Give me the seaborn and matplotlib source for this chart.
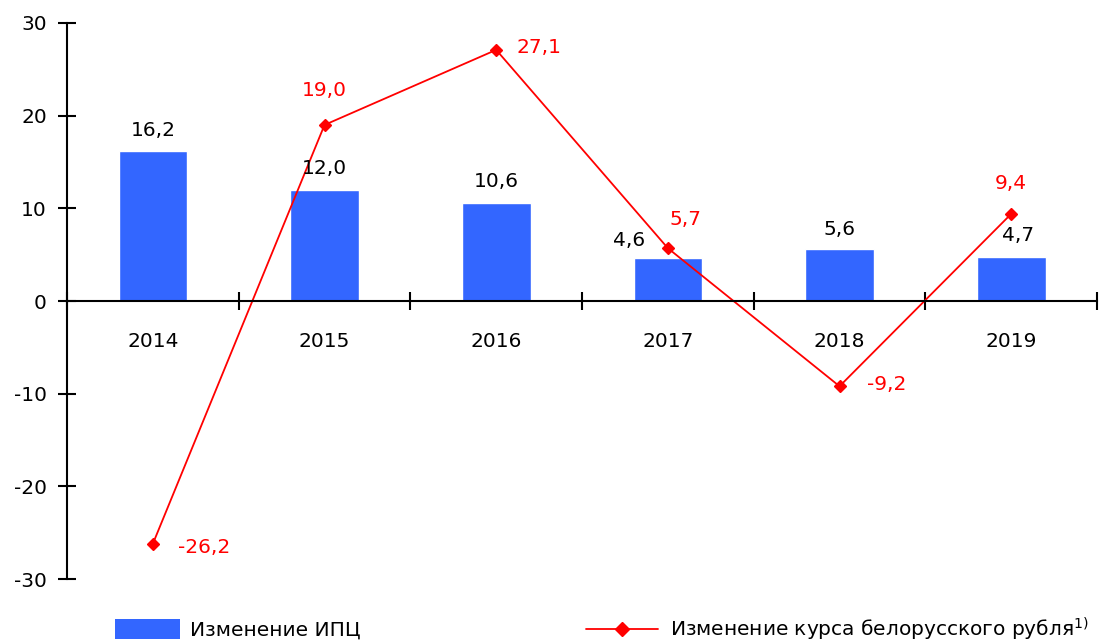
import matplotlib
matplotlib.use("Agg")
import matplotlib.pyplot as plt
import seaborn as sns
from matplotlib.lines import Line2D
from matplotlib.patches import Patch
from matplotlib.ticker import FixedLocator

years = ['2014', '2015', '2016', '2017', '2018', '2019']
cpi = [16.2, 12.0, 10.6, 4.6, 5.6, 4.7]
rate = [-26.2, 19.0, 27.1, 5.7, -9.2, 9.4]

# label offsets in points (dx, dy)
cpi_off = [(0, 15), (0, 15), (0, 15), (-28, 13), (0, 14), (5, 16)]
rate_off = [(37, -3), (0, 25), (31, 2), (13, 21), (34, 1), (0, 22)]

BLUE = '#3366FF'
RED = '#FF0000'
FS = 14.5

sns.set_style("white")
plt.rcParams['font.family'] = ['DejaVu Sans']
plt.rcParams['text.color'] = 'black'
plt.rcParams['xtick.color'] = 'black'
plt.rcParams['ytick.color'] = 'black'

fig = plt.figure(figsize=(11.04, 6.42), dpi=100)
ax = fig.add_axes([0.0607, 0.0981, 0.933, 0.8661])

sns.barplot(x=years, y=cpi, color=BLUE, width=0.4, saturation=1, ax=ax)
sns.pointplot(x=years, y=rate, color=RED, markers='D', markersize=6,
              linewidth=1.3, ax=ax)

ax.set_ylim(-30, 30)
ax.set_xlim(-0.5, 5.5)
ax.set_yticks([-30, -20, -10, 0, 10, 20, 30])
ax.set_yticklabels(['-30', '-20', '-10', '0', '10', '20', '30'])

for s in ['top', 'right']:
    ax.spines[s].set_visible(False)
ax.spines['bottom'].set_position(('data', 0))
ax.spines['left'].set_bounds(-30, 30)
for s in ['left', 'bottom']:
    ax.spines[s].set_linewidth(1.5)
    ax.spines[s].set_color('black')

ax.tick_params(axis='y', direction='inout', length=13, width=1.5,
               labelsize=FS, pad=8, left=True)
ax.tick_params(axis='x', which='major', length=0, labelsize=FS, pad=22)
ax.xaxis.set_minor_locator(FixedLocator([i - 0.5 for i in range(7)]))
ax.tick_params(axis='x', which='minor', direction='inout', length=13,
               width=1.5, bottom=True)
ax.set_xlabel('')
ax.set_ylabel('')

def fmt(v):
    return f'{v:.1f}'.replace('.', ',')

for i, (v, o) in enumerate(zip(cpi, cpi_off)):
    ax.annotate(fmt(v), (i, v), xytext=o, textcoords='offset points',
                ha='center', va='center', fontsize=FS, color='black')
for i, (v, o) in enumerate(zip(rate, rate_off)):
    ax.annotate(fmt(v), (i, v), xytext=o, textcoords='offset points',
                ha='center', va='center', fontsize=FS, color=RED)

h1 = Patch(facecolor=BLUE, edgecolor='none')
h2 = Line2D([], [], color=RED, marker='D', markersize=7, linewidth=1.3)
fig.legend([h1], ['Изменение ИПЦ'], loc='center left',
           bbox_to_anchor=(0.088, 0.02), frameon=False, fontsize=FS,
           handlelength=3.2, handleheight=1.2, handletextpad=0.5)
fig.legend([h2], ['Изменение курса белорусского рубля$^{1)}$'],
           loc='center left', bbox_to_anchor=(0.514, 0.02), frameon=False,
           fontsize=FS, handlelength=3.6, handletextpad=0.6)

fig.savefig('out.png', dpi=100)
